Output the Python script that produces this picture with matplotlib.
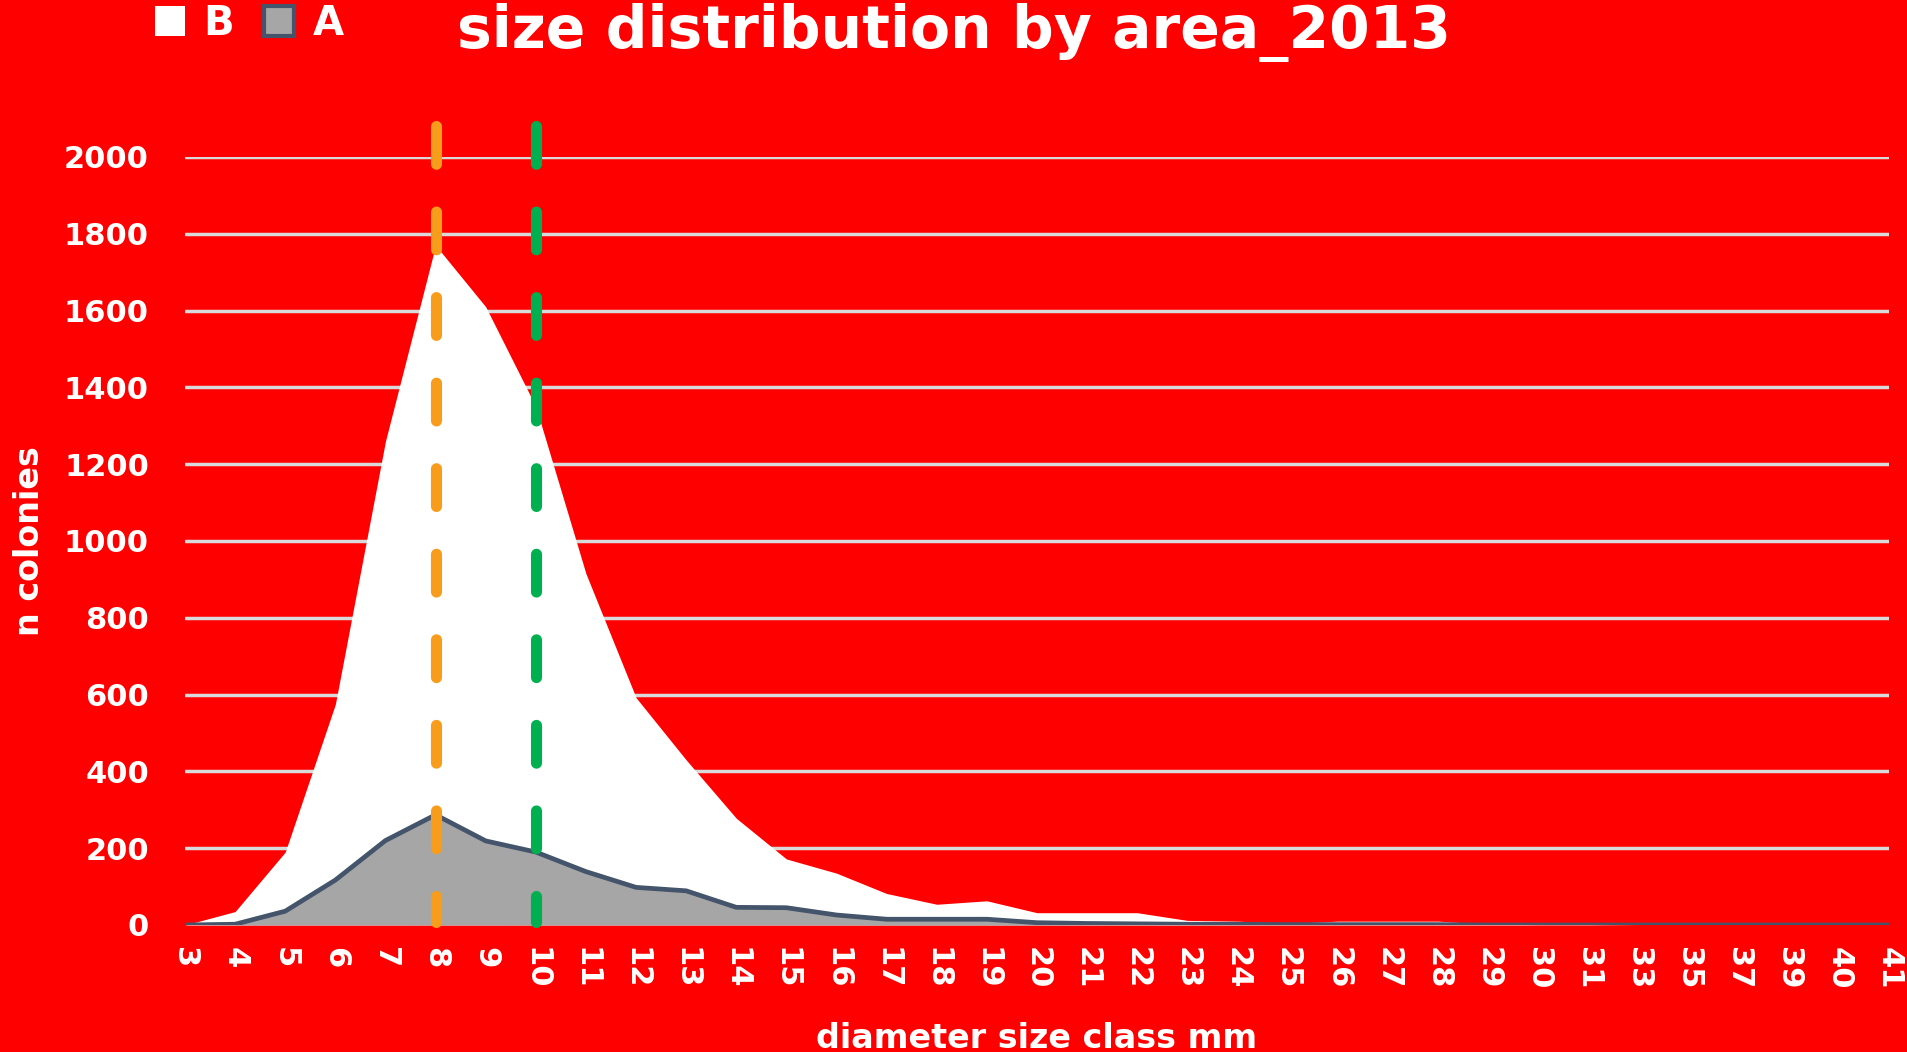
import matplotlib
matplotlib.use("Agg")
import matplotlib.pyplot as plt
from matplotlib.patches import Patch

# size classes (mm) and colony counts per class
size_classes = ["3", "4", "5", "6", "7", "8", "9", "10", "11", "12", "13", "14",
                "15", "16", "17", "18", "19", "20", "21", "22", "23", "24", "25",
                "26", "27", "28", "29", "30", "31", "33", "35", "37", "39", "40", "41"]
counts_b = [0, 35, 190, 575, 1260, 1770, 1610, 1350, 915, 592, 430, 278,
            172, 135, 82, 54, 63, 32, 32, 32, 12, 10, 4,
            10, 10, 10, 2, 1, 1, 0, 0, 0, 0, 0, 0]
counts_a = [0, 2, 36, 117, 220, 287, 219, 190, 139, 98, 89, 46,
            45, 26, 15, 15, 15, 6, 4, 3, 2, 2, 1,
            1, 1, 1, 0, 0, 0, 0, 0, 0, 0, 0, 0]

# reference size classes marked with dashed lines
marked_classes = ["8", "10"]
marked_colors = ["#F89C1C", "#00B050"]
marker_top = 2081

y_ticks = list(range(0, 2001, 200))

RED = "#FF0000"
WHITE = "#FFFFFF"
GREY = "#A6A6A6"
SLATE = "#44546A"
GRID = "#D9D9D9"

fig = plt.figure(figsize=(19.08, 10.52), dpi=100, facecolor=RED)
ax = fig.add_axes([185 / 1908, 1 - 925 / 1052, (1889 - 185) / 1908, (925 - 157) / 1052])
ax.set_facecolor(RED)

x = list(range(len(size_classes)))
ax.fill_between(x, counts_b, 0, color=WHITE, lw=0, zorder=2)
ax.fill_between(x, counts_a, 0, color=GREY, lw=0, zorder=3)
ax.plot(x, counts_a, color=SLATE, lw=3.4, solid_joinstyle="round", zorder=4)

for cls, col in zip(marked_classes, marked_colors):
    xi = size_classes.index(cls)
    ln, = ax.plot([xi, xi], [marker_top, 8], color=col, lw=8, clip_on=False, zorder=5)
    ln.set_dashes((3.4, 4.3))
    ln.set_dash_capstyle("round")

ax.set_xlim(0, len(size_classes) - 1)
ax.set_ylim(0, 2000)
ax.set_yticks(y_ticks)
ax.set_xticks(x)
ax.set_xticklabels(size_classes, rotation=-90)
ax.tick_params(length=0, colors=WHITE, labelsize=22)
ax.tick_params(axis="y", pad=26)
ax.tick_params(axis="x", pad=16, labelsize=22)
for lbl in ax.get_xticklabels() + ax.get_yticklabels():
    lbl.set_fontweight("bold")

ax.set_axisbelow(True)
ax.yaxis.grid(True, color=GRID, lw=2.5)
for gl in ax.get_ygridlines():
    gl.set_solid_capstyle("round")
for sp in ax.spines.values():
    sp.set_visible(False)

fig.text(0.5, 1 - 48 / 1052, "size distribution by area_2013", color=WHITE,
         fontsize=42, fontweight="bold", ha="center", va="baseline")
fig.text(30 / 1908, 1 - 541 / 1052, "n colonies", color=WHITE, fontsize=24,
         fontweight="bold", rotation=90, ha="center", va="center")
fig.text(1037 / 1908, 1 - 1048 / 1052, "diameter size class mm", color=WHITE,
         fontsize=24, fontweight="bold", ha="center", va="baseline")

handles = [Patch(facecolor=WHITE, edgecolor=WHITE, lw=0),
           Patch(facecolor=GREY, edgecolor=SLATE, lw=3)]
leg = fig.legend(handles, ["B", "A"], loc="center left", ncol=2,
                 bbox_to_anchor=(155 / 1908, 1 - 24 / 1052), frameon=False,
                 fontsize=29, handlelength=0.75, handleheight=0.75,
                 handletextpad=0.45, columnspacing=0.75, borderpad=0,
                 borderaxespad=0)
for t in leg.get_texts():
    t.set_color(WHITE)
    t.set_fontweight("bold")

fig.savefig("out.png", dpi=100, facecolor=RED)
